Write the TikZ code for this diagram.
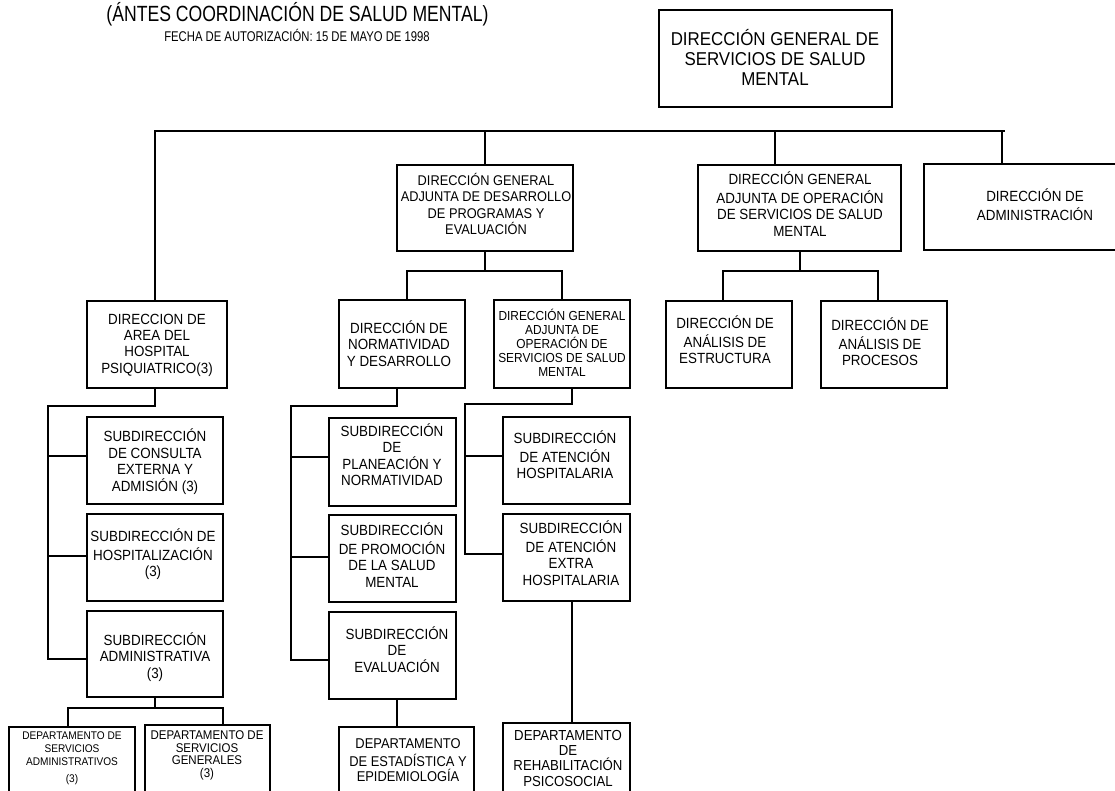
\documentclass[tikz,border=0pt]{standalone}
\usepackage{fontspec}
\setmainfont{Liberation Sans}[FakeStretch=0.909]
\newfontfamily\ttlfont{Liberation Sans}[FakeStretch=0.8]
\tikzset{
  ln/.style={line width=1.1pt, line cap=rect},
  box/.style={draw, line width=1.1pt, inner sep=0pt, outer sep=0pt},
  txt/.style={align=center, inner sep=0pt, outer sep=0pt},
  fA/.style={font=\fontsize{14.74}{16.4}\selectfont},
  fTop/.style={font=\fontsize{18.59}{20}\selectfont},
  fB/.style={font=\fontsize{13.09}{14}\selectfont},
}
\newcommand{\obox}[5]{\node[box, minimum width={(#4-#2)*1pt}, minimum height={(#5-#3)*1pt}] (#1) at ({(#2+#4)/2},{(#3+#5)/2}) {};}
\begin{document}
\begin{tikzpicture}[x=1pt,y=-1pt]
\useasboundingbox (0,0) rectangle (1115,791);
\clip (0,0) rectangle (1115,791);
% title
\node[txt, font=\ttlfont\fontsize{22}{24}\selectfont] (title) at (297.5,15.5) {\strut(ÁNTES COORDINACIÓN DE SALUD MENTAL)\strut};
\node[txt, font=\ttlfont\fontsize{14.1}{15}\selectfont] (fecha) at (297,38) {\strut FECHA DE AUTORIZACIÓN: 15 DE MAYO DE 1998\strut};
% boxes
\obox{top}{659}{10}{892}{107}
\obox{dgad}{397}{165}{573}{251}
\obox{dgao}{698}{165}{901}{251}
\obox{adm}{924}{164}{1150}{250}
\obox{area}{87}{301}{227}{388}
\obox{norm}{339}{300}{465}{388}
\obox{dgao2}{494}{300}{630}{388}
\obox{aest}{666}{301}{792}{388}
\obox{aproc}{821}{301}{947}{388}
\obox{sc}{87}{417}{223}{504}
\obox{sh}{87}{514}{223}{601}
\obox{sa}{87}{611}{223}{697}
\obox{sp}{329}{418}{456}{506}
\obox{spr}{329}{515}{456}{602}
\obox{se}{329}{612}{456}{699}
\obox{sah}{503}{417}{630}{504}
\obox{sae}{503}{514}{630}{601}
\obox{dsa}{9}{727}{135}{820}
\obox{dsg}{145}{725}{270}{820}
\obox{dee}{339}{727}{474}{820}
\obox{drp}{503}{723}{630}{820}
% texts
\node[txt,fTop] (topt) at (775,60) {\strut DIRECCIÓN GENERAL DE\\SERVICIOS DE SALUD\\MENTAL\strut};
\node[txt,font=\fontsize{14.08}{16.4}\selectfont] (dgadt) at (486,206.5) {\strut DIRECCIÓN GENERAL\\ADJUNTA DE DESARROLLO\\DE PROGRAMAS Y\\EVALUACIÓN\strut};
\node[txt,fA] (dgaot) at (800,206.5) {\strut DIRECCIÓN GENERAL\\ADJUNTA DE OPERACIÓN\\DE SERVICIOS DE SALUD\\MENTAL\strut};
\node[txt,fA] (admt) at (1035,207) {\strut DIRECCIÓN DE\\ADMINISTRACIÓN\strut};
\node[txt,fA] (areat) at (157,345.5) {\strut DIRECCION DE\\AREA DEL\\HOSPITAL\\PSIQUIATRICO(3)\strut};
\node[txt,fA] (normt) at (399,346) {\strut DIRECCIÓN DE\\NORMATIVIDAD\\Y DESARROLLO\strut};
\node[txt,fB] (dgao2t) at (562,345) {\strut DIRECCIÓN GENERAL\\ADJUNTA DE\\OPERACIÓN DE\\SERVICIOS DE SALUD\\MENTAL\strut};
\node[txt,fA] (aestt) at (725,342) {\strut DIRECCIÓN DE\\ANÁLISIS DE\\ESTRUCTURA\strut};
\node[txt,fA] (aproct) at (880,344.5) {\strut DIRECCIÓN DE\\ANÁLISIS DE\\PROCESOS\strut};
\node[txt,fA] (sct) at (155,462.5) {\strut SUBDIRECCIÓN\\DE CONSULTA\\EXTERNA Y\\ADMISIÓN (3)\strut};
\node[txt,fA] (sht) at (153,555.5) {\strut SUBDIRECCIÓN DE\\HOSPITALIZACIÓN\\(3)\strut};
\node[txt,fA] (sat) at (155,658) {\strut SUBDIRECCIÓN\\ADMINISTRATIVA\\(3)\strut};
\node[txt,fA] (spt) at (392,457) {\strut SUBDIRECCIÓN\\DE\\PLANEACIÓN Y\\NORMATIVIDAD\strut};
\node[txt,fA] (sprt) at (392,557.5) {\strut SUBDIRECCIÓN\\DE PROMOCIÓN\\DE LA SALUD\\MENTAL\strut};
\node[txt,fA] (set) at (397,652) {\strut SUBDIRECCIÓN\\DE\\EVALUACIÓN\strut};
\node[txt,fA] (saht) at (565,457.5) {\strut SUBDIRECCIÓN\\DE ATENCIÓN\\HOSPITALARIA\strut};
\node[txt,fA] (saet) at (571,555.5) {\strut SUBDIRECCIÓN\\DE ATENCIÓN\\EXTRA\\HOSPITALARIA\strut};
\node[txt, font=\fontsize{11.11}{13}\selectfont] (dsat) at (72,758.5) {\strut DEPARTAMENTO DE\\SERVICIOS\\ADMINISTRATIVOS\\[4pt](3)\strut};
\node[txt, font=\fontsize{12.65}{12.2}\selectfont] (dsgt) at (207,755.5) {\strut DEPARTAMENTO DE\\SERVICIOS\\GENERALES\\(3)\strut};
\node[txt, font=\fontsize{14.19}{15}\selectfont] (deet) at (408,762) {\strut DEPARTAMENTO\\DE ESTADÍSTICA Y\\EPIDEMIOLOGÍA\strut};
\node[txt, font=\fontsize{14.52}{15.3}\selectfont] (drpt) at (568,760) {\strut DEPARTAMENTO\\DE\\REHABILITACIÓN\\PSICOSOCIAL\strut};
% top bar
\coordinate (b1) at (155,131);
\coordinate (b2) at (485,131);
\coordinate (b3) at (775,131);
\coordinate (b4) at (1002,131);
\coordinate (bE) at (1004,131);
\draw[ln] (b1) -- (bE);
\draw[ln] (b1) -- (b1 |- area.north);
\draw[ln] (b2) -- (b2 |- dgad.north);
\draw[ln] (b3) -- (b3 |- dgao.north);
\draw[ln] (b4) -- (b4 |- adm.north);
% dgad children
\coordinate (d0) at (485,271);
\coordinate (dL) at (407,271);
\coordinate (dR) at (562,271);
\draw[ln] (d0 |- dgad.south) -- (d0);
\draw[ln] (dL |- norm.north) -- (dL) -- (dR) -- (dR |- dgao2.north);
% dgao children
\coordinate (o0) at (800,271);
\coordinate (oL) at (723,271);
\coordinate (oR) at (878,271);
\draw[ln] (o0 |- dgao.south) -- (o0);
\draw[ln] (oL |- aest.north) -- (oL) -- (oR) -- (oR |- aproc.north);
% area chain
\coordinate (a0) at (155,406);
\coordinate (aL) at (48,406);
\coordinate (aB) at (48,659);
\draw[ln] (a0 |- area.south) -- (a0) -- (aL) -- (aB) -- (aB -| sa.west);
\draw[ln] (48,456) -- (sc.west |- 0,456);
\draw[ln] (48,556) -- (sh.west |- 0,556);
% sa children
\coordinate (s0) at (155,708);
\coordinate (sL) at (68,708);
\coordinate (sR) at (223,708);
\draw[ln] (s0 |- sa.south) -- (s0);
\draw[ln] (sL |- dsa.north) -- (sL) -- (sR) -- (sR |- dsg.north);
% norm chain
\coordinate (n0) at (397,406);
\coordinate (nL) at (291,406);
\coordinate (nB) at (291,660);
\draw[ln] (n0 |- norm.south) -- (n0) -- (nL) -- (nB) -- (nB -| se.west);
\draw[ln] (291,457) -- (sp.west |- 0,457);
\draw[ln] (291,557) -- (spr.west |- 0,557);
% dgao2 chain
\coordinate (g0) at (572,404);
\coordinate (gL) at (465,404);
\coordinate (gB) at (465,554);
\draw[ln] (g0 |- dgao2.south) -- (g0) -- (gL) -- (gB) -- (gB -| sae.west);
\draw[ln] (465,456) -- (sah.west |- 0,456);
% departments
\coordinate (e0) at (397,699);
\draw[ln] (e0 |- se.south) -- (e0 |- dee.north);
\coordinate (r0) at (572,601);
\draw[ln] (r0 |- sae.south) -- (r0 |- drp.north);
\end{tikzpicture}
\end{document}
